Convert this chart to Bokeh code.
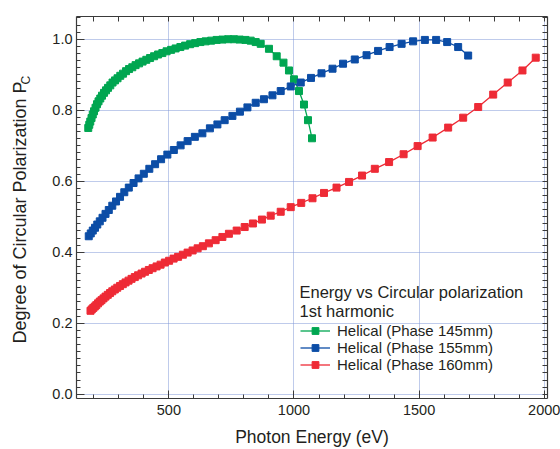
import math
from bokeh.plotting import figure
from bokeh.models import (Range1d, FixedTicker, PrintfTickFormatter, LinearAxis,
                          Legend, LegendItem, Label, Title)
from bokeh.embed import file_html
from bokeh.resources import INLINE

# ---------------- data ----------------
green_E = [178, 182, 186, 191, 196, 201, 207, 213, 219, 226, 233, 241, 249, 257, 266,
           275, 285, 295, 306, 317, 329, 341, 354, 367, 381, 395, 410, 425, 441, 457,
           474, 491, 509, 527, 546, 565, 585, 605, 626, 647, 669, 691, 714, 737, 760,
           783, 806, 827, 847, 867, 900, 931, 958, 980, 1000, 1020, 1040, 1056, 1072]
green_P = [0.750, 0.759, 0.768, 0.778, 0.788, 0.797, 0.807, 0.817, 0.825, 0.833, 0.841,
           0.849, 0.856, 0.863, 0.870, 0.878, 0.884, 0.890, 0.897, 0.903, 0.910, 0.916,
           0.921, 0.927, 0.932, 0.937, 0.942, 0.947, 0.952, 0.957, 0.961, 0.966, 0.970,
           0.974, 0.978, 0.982, 0.986, 0.989, 0.992, 0.994, 0.996, 0.998, 0.999, 1.000,
           1.000, 0.999, 0.998, 0.996, 0.992, 0.987, 0.973, 0.952, 0.934, 0.912, 0.887,
           0.854, 0.816, 0.772, 0.721]

blue_E = [180, 188, 196, 205, 214, 224, 235, 247, 260, 274, 289, 305, 322, 340, 359,
          379, 400, 422, 445, 469, 494, 520, 547, 575, 604, 634, 664, 694, 723, 754,
          784, 814, 847, 880, 914, 947, 987, 1027, 1068, 1110, 1154, 1196, 1243, 1290,
          1336, 1382, 1430, 1476, 1523, 1568, 1612, 1656, 1696]
blue_P = [0.445, 0.453, 0.461, 0.469, 0.478, 0.487, 0.497, 0.508, 0.519, 0.531, 0.543,
          0.556, 0.569, 0.582, 0.595, 0.608, 0.621, 0.635, 0.648, 0.662, 0.675, 0.688,
          0.701, 0.713, 0.725, 0.735, 0.749, 0.760, 0.772, 0.784, 0.796, 0.808, 0.821,
          0.831, 0.842, 0.854, 0.867, 0.878, 0.891, 0.904, 0.917, 0.931, 0.943, 0.955,
          0.967, 0.978, 0.987, 0.994, 0.998, 0.998, 0.992, 0.978, 0.954]

red_E = [187, 192, 198, 204, 210, 217, 224, 231, 239, 247, 256, 265, 274, 284, 294,
         305, 316, 327, 339, 351, 364, 377, 391, 405, 420, 435, 451, 467, 484, 501,
         519, 537, 556, 575, 595, 615, 636, 660, 687, 714, 740, 771, 803, 836, 872,
         907, 947, 987, 1029, 1074, 1120, 1170, 1220, 1272, 1323, 1380, 1438, 1494,
         1554, 1616, 1676, 1736, 1796, 1854, 1913, 1966]
red_P = [0.235, 0.239, 0.243, 0.247, 0.251, 0.256, 0.261, 0.265, 0.270, 0.275, 0.280,
         0.285, 0.290, 0.295, 0.300, 0.305, 0.310, 0.315, 0.320, 0.325, 0.330, 0.335,
         0.340, 0.345, 0.350, 0.355, 0.360, 0.365, 0.371, 0.376, 0.382, 0.387, 0.393,
         0.399, 0.405, 0.411, 0.417, 0.425, 0.434, 0.443, 0.452, 0.461, 0.471, 0.481,
         0.492, 0.503, 0.514, 0.527, 0.539, 0.552, 0.567, 0.582, 0.598, 0.616, 0.635,
         0.654, 0.676, 0.699, 0.723, 0.751, 0.779, 0.809, 0.844, 0.878, 0.912, 0.948]

series_labels = ["Helical (Phase 145mm)", "Helical (Phase 155mm)", "Helical (Phase 160mm)"]
legend_title = ["Energy vs Circular polarization", "1st harmonic"]
x_label = "Photon Energy (eV)"
y_label = "Degree of Circular Polarization P"
y_label_sub = "C"

x_major = [500, 1000, 1500, 2000]
x_minor = [200, 300, 400, 600, 700, 800, 900, 1100, 1200, 1300, 1400,
           1600, 1700, 1800, 1900]
y_major = [0.0, 0.2, 0.4, 0.6, 0.8, 1.0]
y_minor = [round(i * 0.02, 2) for i in range(0, 54)]

# ---------------- styling ----------------
FONT = "Liberation Sans"
TXT = "#231f20"
AX = "#3a3a3a"
GRID = "#7f97d6"
C_GREEN = "#00a651"
C_BLUE = "#0c4da6"
C_RED = "#ee2b36"

p = figure(width=560, height=449,
           x_range=Range1d(131, 2013), y_range=Range1d(-0.012, 1.064),
           output_backend="svg", toolbar_location=None,
           min_border_left=76, min_border_right=13, min_border_top=16,
           min_border_bottom=49)
p.outline_line_color = None
p.background_fill_color = "white"
p.border_fill_color = "white"

xt = FixedTicker(ticks=x_major, minor_ticks=x_minor)
yt = FixedTicker(ticks=y_major, minor_ticks=y_minor)
# mirror axes: ticks only (all as minor ticks, so no labels are produced)
xt_mirror = FixedTicker(ticks=[], minor_ticks=sorted(x_major + x_minor))
yt_mirror = FixedTicker(ticks=[], minor_ticks=y_minor)

def style_axis(ax):
    ax.axis_line_color = AX
    ax.axis_line_width = 1.2
    ax.major_tick_line_color = AX
    ax.minor_tick_line_color = AX
    ax.major_tick_in = 8
    ax.major_tick_out = 0
    ax.minor_tick_in = 4
    ax.minor_tick_out = 0
    ax.major_label_text_font = FONT
    ax.major_label_text_font_size = "14.5px"
    ax.major_label_text_color = TXT
    ax.major_label_standoff = 5

xa = p.xaxis[0]
xa.ticker = xt
xa.formatter = PrintfTickFormatter(format="%d")
style_axis(xa)
xa.major_label_standoff = 6
xa.axis_label = x_label
xa.axis_label_text_font = FONT
xa.axis_label_text_font_size = "17.5px"
xa.axis_label_text_font_style = "normal"
xa.axis_label_text_color = TXT
xa.axis_label_standoff = 9

ya = p.yaxis[0]
ya.ticker = yt
ya.formatter = PrintfTickFormatter(format="%.1f")
style_axis(ya)
ya.major_label_standoff = 4

top = LinearAxis(ticker=xt_mirror)
style_axis(top)
top.minor_tick_in = 5
top.major_label_standoff = 0
p.add_layout(top, "above")
right = LinearAxis(ticker=yt_mirror)
style_axis(right)
right.minor_tick_in = 5
right.major_label_standoff = 0
p.add_layout(right, "right")

# y-axis label "Degree of Circular Polarization P" with subscript "C",
# built from two side titles so that the subscript can be smaller
sub_title = Title(text=y_label_sub, align="left", vertical_align="top",
                  offset=314, standoff=30, text_font=FONT,
                  text_font_size="12px", text_font_style="normal",
                  text_color=TXT)
main_title = Title(text=y_label, align="left", vertical_align="bottom",
                   offset=55, standoff=-53, text_font=FONT,
                   text_font_size="18px", text_font_style="normal",
                   text_color=TXT)
p.add_layout(sub_title, "left")
p.add_layout(main_title, "left")

p.xgrid.ticker = xt
p.ygrid.ticker = yt
p.grid.grid_line_color = GRID
p.grid.grid_line_dash = "1 1"
p.grid.grid_line_width = 1

# ---------------- series ----------------
items = []
for E, P, col, lab in [(green_E, green_P, C_GREEN, series_labels[0]),
                       (blue_E, blue_P, C_BLUE, series_labels[1]),
                       (red_E, red_P, C_RED, series_labels[2])]:
    l = p.line(E, P, line_color=col, line_width=1.3)
    s = p.scatter(E, P, marker="square", size=7, fill_color=col, line_color=col)
    items.append(LegendItem(label=lab, renderers=[l, s]))

legend = Legend(items=items, location=(224, 25), orientation="vertical",
                border_line_color=None, background_fill_alpha=0,
                padding=0, margin=0, spacing=0,
                glyph_width=30, glyph_height=17, label_height=17,
                label_standoff=7,
                label_text_font=FONT, label_text_font_size="15px",
                label_text_color=TXT)
p.add_layout(legend)

for txt, yy in zip(legend_title, [107, 88]):
    p.add_layout(Label(x=223, y=yy, x_units="screen", y_units="screen",
                       text=txt, text_font=FONT, text_font_size="16.5px",
                       text_color=TXT, text_baseline="alphabetic",
                       text_align="left"))

open("out.html", "w").write(file_html(p, INLINE))
